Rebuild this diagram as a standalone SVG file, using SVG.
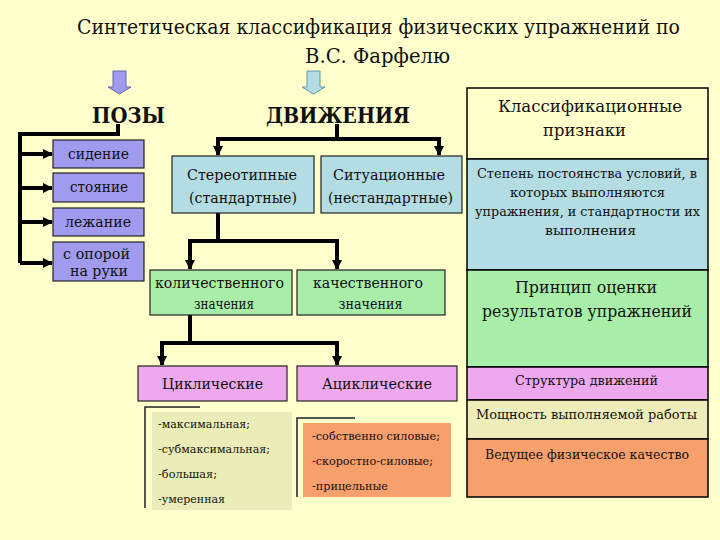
<svg xmlns="http://www.w3.org/2000/svg" width="720" height="540" viewBox="0 0 720 540">
<defs>
<marker id="ah" viewBox="0 0 10 10" refX="9" refY="5" markerWidth="2.6" markerHeight="2.6" markerUnits="strokeWidth" orient="auto">
<path d="M0,0 L10,5 L0,10 z" fill="#000"/>
</marker>
<style>
text{font-family:'DejaVu Serif','Liberation Serif',serif;fill:#111;text-anchor:middle}
.t{font-size:19.5px}
.h{font-size:22px;font-weight:bold}
.b{font-size:14.5px}
.s{font-size:11.5px;text-anchor:start}
.r1{font-size:16px}
.r2{font-size:12px}
.r3{font-size:12.5px}
.c{stroke:#000;stroke-width:4;fill:none}
.ca{stroke:#000;stroke-width:4;fill:none;marker-end:url(#ah)}
.box{stroke:#222;stroke-width:1.2}
.purple{fill:#A09BEE}
.blue{fill:#B3DCE3}
.green{fill:#A8EEA8}
.pink{fill:#EEA9EE}
.olive{fill:#EAEDB8}
.orange{fill:#F8A06C}
.cell{stroke:#000;stroke-width:1.5}
</style>
</defs>
<rect width="720" height="540" fill="#FFFFCC"/>

<g id="title">
<text class="t" x="378.5" y="34" textLength="603" lengthAdjust="spacingAndGlyphs">Синтетическая классификация физических упражнений по</text>
<text class="t" x="377.5" y="63" textLength="145" lengthAdjust="spacingAndGlyphs">В.С. Фарфелю</text>
</g>

<g id="arrow-pozy">
<path d="M113,71 H126 V87 H131 L119.5,94 L108,87 H113 z" fill="#A09BEE" stroke="#6666aa" stroke-width="1"/>
</g>
<g id="arrow-dvizh">
<path d="M307,71 H320 V87 H325 L313.5,94 L302,87 H307 z" fill="#B3DCE3" stroke="#6699aa" stroke-width="1"/>
</g>

<g id="pozy"><text class="h" x="128.5" y="123" textLength="73" lengthAdjust="spacingAndGlyphs">ПОЗЫ</text></g>
<g id="dvizheniya"><text class="h" x="338" y="123" textLength="144" lengthAdjust="spacingAndGlyphs">ДВИЖЕНИЯ</text></g>

<g id="connectors">
<path class="c" d="M118,124 V134 H20 V263"/>
<path class="ca" d="M20,154 H52"/>
<path class="ca" d="M20,188 H52"/>
<path class="ca" d="M20,222 H52"/>
<path class="ca" d="M20,263 H52"/>
<path class="c" d="M337,124 V139 M216,139 H441"/>
<path class="ca" d="M218,139 V155"/>
<path class="ca" d="M439,139 V155"/>
<path class="c" d="M218,213 V241 M188,241 H339"/>
<path class="ca" d="M190,241 V269"/>
<path class="ca" d="M337,241 V269"/>
<path class="c" d="M190,315 V343 M160,343 H339"/>
<path class="ca" d="M162,343 V365"/>
<path class="ca" d="M337,343 V365"/>
<path stroke="#222" stroke-width="1.5" fill="none" d="M200,407 H145 V508"/>
<path stroke="#222" stroke-width="1.5" fill="none" d="M355,418 H297 V497"/>
</g>

<g id="sidenie"><rect class="box purple" x="53" y="140" width="91" height="28"/><text class="b" x="98.5" y="159" textLength="61" lengthAdjust="spacingAndGlyphs">сидение</text></g>
<g id="stoyanie"><rect class="box purple" x="53" y="173" width="91" height="29"/><text class="b" x="99" y="192" textLength="58" lengthAdjust="spacingAndGlyphs">стояние</text></g>
<g id="lezhanie"><rect class="box purple" x="53" y="208" width="91" height="28"/><text class="b" x="98" y="227" textLength="66" lengthAdjust="spacingAndGlyphs">лежание</text></g>
<g id="s-oporoy"><rect class="box purple" x="53" y="242" width="91" height="39"/><text class="b" x="96.5" y="259" textLength="67" lengthAdjust="spacingAndGlyphs">с опорой</text><text class="b" x="99" y="276" textLength="58" lengthAdjust="spacingAndGlyphs">на руки</text></g>

<g id="stereotipnye"><rect class="box blue" x="172" y="156" width="142" height="57"/><text class="b" x="242" y="180" textLength="110" lengthAdjust="spacingAndGlyphs">Стереотипные</text><text class="b" x="243" y="203" textLength="108" lengthAdjust="spacingAndGlyphs">(стандартные)</text></g>
<g id="situacionnye"><rect class="box blue" x="321" y="156" width="141" height="57"/><text class="b" x="389" y="180" textLength="112" lengthAdjust="spacingAndGlyphs">Ситуационные</text><text class="b" x="390.5" y="203" textLength="125" lengthAdjust="spacingAndGlyphs">(нестандартные)</text></g>

<g id="kolichestv"><rect class="box green" x="150" y="270" width="142" height="45"/><text class="b" x="219.5" y="288" textLength="129" lengthAdjust="spacingAndGlyphs">количественного</text><text class="b" x="224" y="309" textLength="60" lengthAdjust="spacingAndGlyphs">значения</text></g>
<g id="kachestv"><rect class="box green" x="297" y="270" width="148" height="45"/><text class="b" x="368" y="288" textLength="110" lengthAdjust="spacingAndGlyphs">качественного</text><text class="b" x="370.5" y="309" textLength="64" lengthAdjust="spacingAndGlyphs">значения</text></g>

<g id="ciklicheskie"><rect class="box pink" x="138" y="366" width="149" height="35"/><text class="b" x="212.5" y="389" textLength="101" lengthAdjust="spacingAndGlyphs">Циклические</text></g>
<g id="aciklicheskie"><rect class="box pink" x="297" y="366" width="160" height="35"/><text class="b" x="377" y="389" textLength="110" lengthAdjust="spacingAndGlyphs">Ациклические</text></g>

<g id="list-moshnost">
<rect class="olive" x="152" y="412" width="140" height="98"/>
<text class="s" x="158" y="428" textLength="92" lengthAdjust="spacingAndGlyphs">-максимальная;</text>
<text class="s" x="158" y="453" textLength="112" lengthAdjust="spacingAndGlyphs">-субмаксимальная;</text>
<text class="s" x="158" y="478" textLength="59" lengthAdjust="spacingAndGlyphs">-большая;</text>
<text class="s" x="158" y="503" textLength="67" lengthAdjust="spacingAndGlyphs">-умеренная</text>
</g>
<g id="list-kachestvo">
<rect class="orange" x="303" y="423" width="148" height="74"/>
<text class="s" x="312" y="440" textLength="128" lengthAdjust="spacingAndGlyphs">-собственно силовые;</text>
<text class="s" x="312" y="465" textLength="121" lengthAdjust="spacingAndGlyphs">-скоростно-силовые;</text>
<text class="s" x="312" y="490" textLength="76" lengthAdjust="spacingAndGlyphs">-прицельные</text>
</g>

<g id="priznaki">
<rect class="cell" x="467" y="88" width="241" height="71" fill="#FFFFCC"/>
<text class="r1" x="590" y="112" textLength="184" lengthAdjust="spacingAndGlyphs">Классификационные</text>
<text class="r1" x="584.5" y="136" textLength="83" lengthAdjust="spacingAndGlyphs">признаки</text>
<rect class="cell blue" x="467" y="159" width="241" height="111"/>
<text class="r2" x="587" y="178" textLength="220" lengthAdjust="spacingAndGlyphs">Степень постоянства условий, в</text>
<text class="r2" x="587.5" y="197" textLength="155" lengthAdjust="spacingAndGlyphs">которых выполняются</text>
<text class="r2" x="587.5" y="216" textLength="225" lengthAdjust="spacingAndGlyphs">упражнения, и стандартности их</text>
<text class="r2" x="590.5" y="235" textLength="91" lengthAdjust="spacingAndGlyphs">выполнения</text>
<rect class="cell green" x="467" y="270" width="241" height="97"/>
<text class="r1" x="586" y="293" textLength="142" lengthAdjust="spacingAndGlyphs">Принцип оценки</text>
<text class="r1" x="587" y="317" textLength="210" lengthAdjust="spacingAndGlyphs">результатов упражнений</text>
<rect class="cell pink" x="467" y="367" width="241" height="33"/>
<text class="r3" x="586.5" y="385" textLength="143" lengthAdjust="spacingAndGlyphs">Структура движений</text>
<rect class="cell" x="467" y="400" width="241" height="39" fill="#EEEDBA"/>
<text class="r3" x="586.5" y="419" textLength="221" lengthAdjust="spacingAndGlyphs">Мощность выполняемой работы</text>
<rect class="cell orange" x="467" y="439" width="241" height="58"/>
<text class="r3" x="587" y="459" textLength="204" lengthAdjust="spacingAndGlyphs">Ведущее физическое качество</text>
</g>
</svg>
